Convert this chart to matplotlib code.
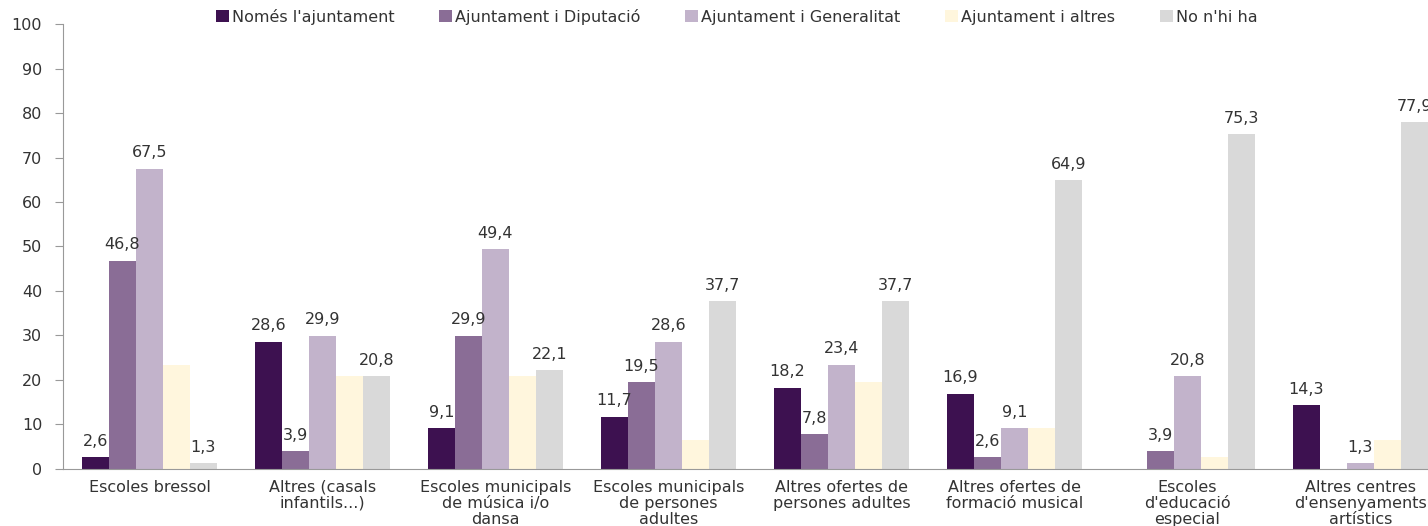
import matplotlib
matplotlib.use('Agg')
import matplotlib.pyplot as plt
import numpy as np

plt.rcParams['font.family'] = ['DejaVu Sans']

categories = ['Escoles bressol', 'Altres (casals\ninfantils...)',
              'Escoles municipals\nde música i/o\ndansa',
              'Escoles municipals\nde persones\nadultes',
              'Altres ofertes de\npersones adultes',
              'Altres ofertes de\nformació musical',
              'Escoles\nd\'educació\nespecial',
              'Altres centres\nd\'ensenyaments\nartístics']
series_names = ["Només l'ajuntament", 'Ajuntament i Diputació',
                'Ajuntament i Generalitat', 'Ajuntament i altres', "No n'hi ha"]
nomes_ajuntament = [2.6, 28.6, 9.1, 11.7, 18.2, 16.9, 0, 14.3]
ajunt_diputacio = [46.8, 3.9, 29.9, 19.5, 7.8, 2.6, 3.9, 0]
ajunt_generalitat = [67.5, 29.9, 49.4, 28.6, 23.4, 9.1, 20.8, 1.3]
ajunt_altres = [23.4, 20.8, 20.8, 6.5, 19.5, 9.1, 2.6, 6.5]
no_nhi_ha = [1.3, 20.8, 22.1, 37.7, 37.7, 64.9, 75.3, 77.9]

series = [nomes_ajuntament, ajunt_diputacio, ajunt_generalitat, ajunt_altres, no_nhi_ha]
colors = ['#3d1150', '#8a6d96', '#c2b3cb', '#fff6dd', '#d9d9d9']
show_labels = [True, True, True, False, True]

fig = plt.figure(figsize=(14.28, 5.26), dpi=100)
ax = fig.add_axes([0.0441, 0.109, 0.969, 0.845])

x = np.arange(len(categories))
w = 0.156
for i, (vals, c) in enumerate(zip(series, colors)):
    pos = x + (i - 2) * w
    ax.bar(pos, vals, w, color=c, label=series_names[i])
    if show_labels[i]:
        for p, v in zip(pos, vals):
            if v > 0:
                ax.annotate(('%.1f' % v).replace('.', ','), (p, v),
                            xytext=(0, 6), textcoords='offset points',
                            ha='center', va='bottom', fontsize=11.5, color='#333333')

ax.set_xlim(-0.5, 7.5)
ax.set_ylim(0, 100)
ax.set_yticks(range(0, 101, 10))
ax.set_xticks(x)
ax.set_xticklabels(categories, fontsize=11.5, color='#333333', linespacing=1.1)
ax.tick_params(axis='x', length=0, pad=8)
ax.tick_params(axis='y', direction='out', length=6, color='#999999',
               labelsize=11.5, labelcolor='#333333', pad=9)
ax.spines['top'].set_visible(False)
ax.spines['right'].set_visible(False)
ax.spines['left'].set_color('#999999')
ax.spines['bottom'].set_color('#999999')

fig.legend(loc='center', bbox_to_anchor=(0.516, 0.968), ncol=5, frameon=False,
           fontsize=11.5, handlelength=0.8, handleheight=0.8, handletextpad=0.2,
           columnspacing=2.8, labelcolor='#333333')

plt.savefig('out.png', dpi=100)
